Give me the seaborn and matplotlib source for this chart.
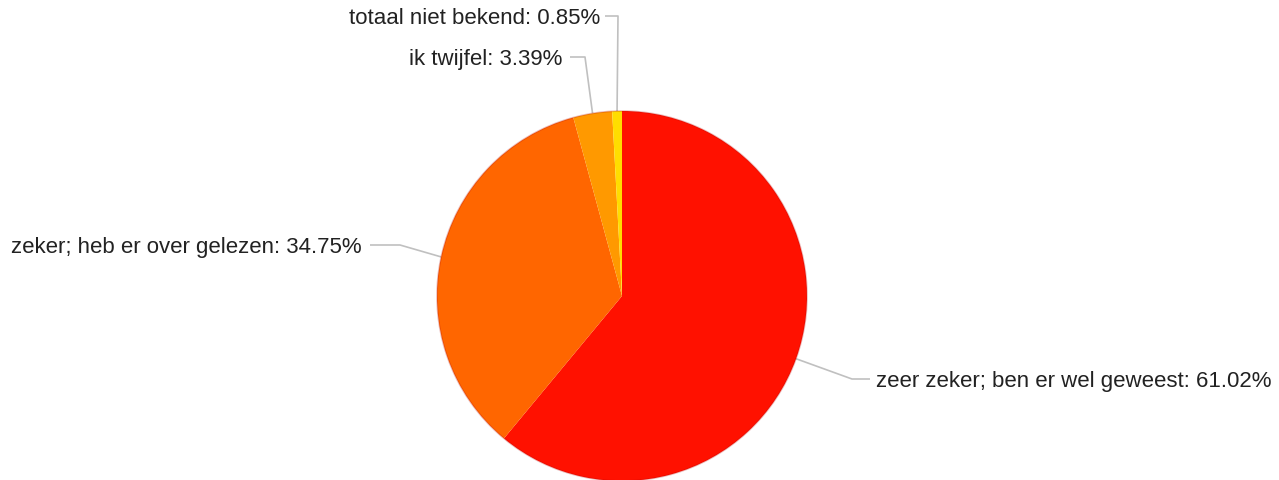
import numpy as np
import matplotlib
matplotlib.use("Agg")
import matplotlib.pyplot as plt
import seaborn as sns

labels = ["zeer zeker; ben er wel geweest", "zeker; heb er over gelezen",
          "ik twijfel", "totaal niet bekend"]
values = [61.02, 34.75, 3.39, 0.85]
colors = ["#ff1100", "#ff6600", "#ff9900", "#ffdd00"]

sns.set_theme(style="white")
plt.rcParams['font.family'] = ['Liberation Sans', 'DejaVu Sans']

W, H = 1279, 481
fig = plt.figure(figsize=(W / 100, H / 100), dpi=100)
ax = fig.add_axes([0, 0, 1, 1])

cx, cy, r = 622, 297, 185
# pie drawn in y-down space: counterclock=True in flipped axes looks clockwise
wedges, _ = ax.pie(values, colors=colors, startangle=-90, counterclock=True,
                   center=(cx, cy), radius=r, frame=True,
                   wedgeprops=dict(linewidth=0))
ax.set_xlim(0, W)
ax.set_ylim(H, 0)
ax.set_aspect("equal")
ax.axis("off")

# subtle darker rim
rim = plt.Circle((cx, cy), r, fill=False, edgecolor="#b00000", alpha=0.25, lw=1.2)
ax.add_patch(rim)

# leader line layout: (elbow x, elbow y, line end x, text x, ha)
layout = [
    (852, 380, 870, 876, "left"),
    (400, 246, 370, 362, "right"),
    (585, 58, 570, 562, "right"),
    (618, 17, 605, 600, "right"),
]

for w, lab, val, (ex, ey, lx, tx, ha) in zip(wedges, labels, values, layout):
    mid = np.deg2rad((w.theta1 + w.theta2) / 2)
    px = cx + r * np.cos(mid)
    py = cy + r * np.sin(mid)
    ax.plot([px, ex, lx], [py, ey, ey], color="#c0c0c0", lw=1.2,
            solid_capstyle="butt", zorder=0)
    ax.text(tx, ey + 2, f"{lab}: {val:.2f}%", ha=ha, va="center",
            fontsize=16, color="#222222")

fig.savefig("out.png", dpi=100)
